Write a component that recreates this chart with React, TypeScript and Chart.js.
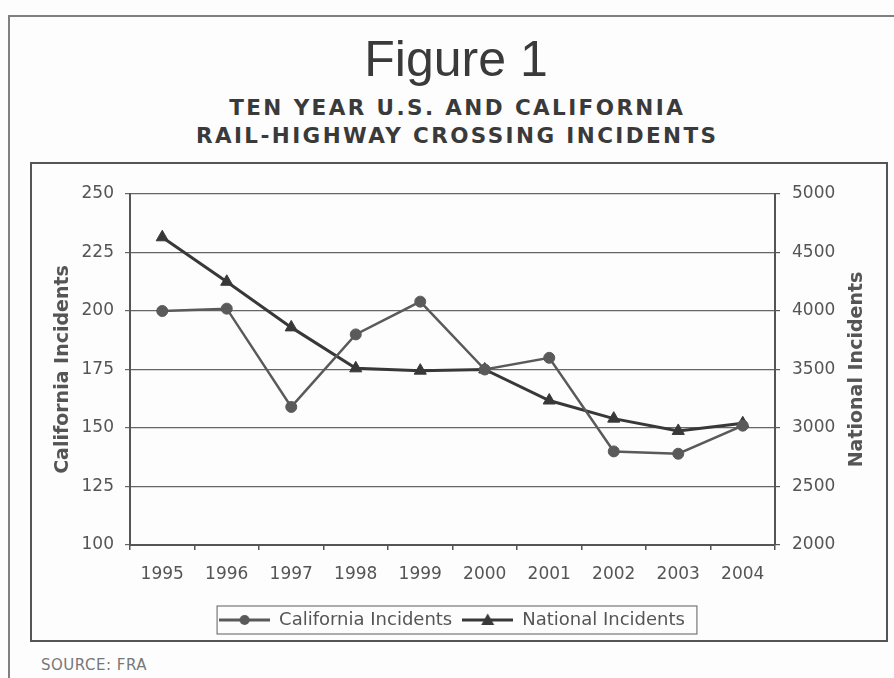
import React, { useEffect, useRef } from 'react';
import { Chart, registerables } from 'chart.js';

Chart.register(...registerables);

// ---- data ----
const years = ['1995', '1996', '1997', '1998', '1999', '2000', '2001', '2002', '2003', '2004'];
const californiaIncidents = [200, 201, 159, 190, 204, 175, 180, 140, 139, 151];
const nationalIncidents = [4630, 4250, 3860, 3510, 3490, 3500, 3235, 3080, 2975, 3040];
const californiaAxisRange = [100, 250];
const californiaAxisStep = 25;
const nationalAxisRange = [2000, 5000];
const nationalAxisStep = 500;
const seriesNames = ['California Incidents', 'National Incidents'];
const axisTitles = ['California Incidents', 'National Incidents'];

const FONT = '"DejaVu Sans", Verdana, sans-serif';
const CA_COLOR = '#5a5a5a';
const US_COLOR = '#383838';

function makeLegendSample(color: string, style: 'circle' | 'triangle'): HTMLCanvasElement {
  const c = document.createElement('canvas');
  c.width = 51;
  c.height = 18;
  const g = c.getContext('2d')!;
  g.strokeStyle = color;
  g.fillStyle = color;
  g.lineWidth = 3;
  g.beginPath();
  g.moveTo(0, 9);
  g.lineTo(51, 9);
  g.stroke();
  g.beginPath();
  if (style === 'circle') {
    g.arc(25.5, 9, 5, 0, Math.PI * 2);
  } else {
    g.moveTo(25.5, 2.5);
    g.lineTo(32, 14);
    g.lineTo(19, 14);
    g.closePath();
  }
  g.fill();
  return c;
}

const rightTitlePlugin = {
  id: 'rightTitle',
  afterDraw(chart: any) {
    const { ctx, chartArea } = chart;
    const s = chart.scales.y2;
    ctx.save();
    ctx.translate(s.right - 17, (chartArea.top + chartArea.bottom) / 2);
    ctx.rotate(-Math.PI / 2);
    ctx.font = 'bold 19px ' + FONT;
    ctx.fillStyle = '#555';
    ctx.textAlign = 'center';
    ctx.textBaseline = 'middle';
    ctx.fillText(axisTitles[1], 0, 0);
    ctx.restore();
  },
};

const legendBorderPlugin = {
  id: 'legendBorder',
  afterDraw(chart: any) {
    const hb = chart.legend?.legendHitBoxes;
    if (!hb || !hb.length) return;
    const ctx = chart.ctx;
    const left = Math.min(...hb.map((h: any) => h.left)) - 2;
    const right = Math.max(...hb.map((h: any) => h.left + h.width)) + 12;
    const top = hb[0].top - 5;
    const bottom = hb[0].top + hb[0].height + 5;
    ctx.save();
    ctx.strokeStyle = '#777';
    ctx.lineWidth = 1.2;
    ctx.strokeRect(left, top, right - left, bottom - top);
    ctx.restore();
  },
};

export default function App() {
  const ref = useRef<HTMLCanvasElement>(null);

  useEffect(() => {
    if (!ref.current) return;
    const samples = [makeLegendSample(CA_COLOR, 'circle'), makeLegendSample(US_COLOR, 'triangle')];
    const chart = new Chart(ref.current, {
      type: 'line',
      data: {
        labels: years,
        datasets: [
          {
            label: seriesNames[0],
            data: californiaIncidents,
            yAxisID: 'y',
            borderColor: CA_COLOR,
            backgroundColor: CA_COLOR,
            borderWidth: 2.5,
            pointStyle: 'circle',
            pointRadius: 5.5,
            pointBackgroundColor: CA_COLOR,
            pointBorderColor: CA_COLOR,
            pointBorderWidth: 1,
            tension: 0,
          },
          {
            label: seriesNames[1],
            data: nationalIncidents,
            yAxisID: 'y2',
            borderColor: US_COLOR,
            backgroundColor: US_COLOR,
            borderWidth: 3,
            pointStyle: 'triangle',
            pointRadius: 7,
            pointBackgroundColor: US_COLOR,
            pointBorderColor: US_COLOR,
            pointBorderWidth: 1,
            tension: 0,
          },
        ],
      },
      options: {
        responsive: false,
        animation: false,
        devicePixelRatio: 1,
        layout: { padding: { left: 0, right: 14, top: 32, bottom: 3 } },
        font: { family: FONT },
        plugins: {
          title: { display: false },
          tooltip: { enabled: false },
          legend: {
            display: true,
            position: 'bottom',
            labels: {
              usePointStyle: true,
              pointStyleWidth: 51,
              padding: 10,
              color: '#555',
              font: { family: FONT, size: 18 },
              generateLabels: (ch: any) => {
                const items = Chart.defaults.plugins.legend.labels.generateLabels(ch);
                return items.map((it: any, i: number) => ({ ...it, pointStyle: samples[i] }));
              },
            },
          },
        },
        scales: {
          x: {
            type: 'category',
            offset: true,
            grid: {
              display: true,
              offset: true,
              drawOnChartArea: false,
              drawTicks: true,
              tickLength: 5,
              color: '#555',
              lineWidth: 1.5,
            },
            border: { display: true, color: '#555', width: 2 },
            ticks: { color: '#555', font: { family: FONT, size: 17 }, padding: 14, maxRotation: 0 },
            afterFit: (s: any) => { s.height = 56; },
          },
          y: {
            type: 'linear',
            position: 'left',
            min: californiaAxisRange[0],
            max: californiaAxisRange[1],
            grid: {
              display: true,
              color: '#666',
              lineWidth: 1.2,
              drawTicks: true,
              tickLength: 5,
            },
            border: { display: true, color: '#555', width: 2 },
            ticks: { stepSize: californiaAxisStep, color: '#555', font: { family: FONT, size: 17 }, padding: 11 },
            title: {
              display: true,
              text: axisTitles[0],
              color: '#555',
              font: { family: FONT, size: 19, weight: 'bold' },
              padding: { top: 22, bottom: 0 },
            },
            afterFit: (s: any) => { s.width = 100; },
          },
          y2: {
            type: 'linear',
            position: 'right',
            min: nationalAxisRange[0],
            max: nationalAxisRange[1],
            grid: {
              display: true,
              drawOnChartArea: false,
              drawTicks: true,
              tickLength: 5,
              color: '#555',
              lineWidth: 1.2,
            },
            border: { display: true, color: '#555', width: 2 },
            ticks: {
              stepSize: nationalAxisStep,
              color: '#555',
              font: { family: FONT, size: 17 },
              padding: 12,
              callback: (v: any) => String(v),
            },
            afterFit: (s: any) => { s.width = 99; },
          },
        },
      },
      plugins: [rightTitlePlugin, legendBorderPlugin],
    } as any);
    return () => chart.destroy();
  }, []);

  return (
    <div style={{ position: 'absolute', left: 0, top: 0, width: 894, height: 678, overflow: 'hidden', background: '#fdfdfd' }}>
      <div style={{ position: 'absolute', left: 8, top: 15, width: 920, height: 720, border: '2px solid #808080' }} />
      <div
        style={{
          position: 'absolute', left: 0, top: 33.7, width: 912, textAlign: 'center',
          fontFamily: '"Liberation Sans", Arial, sans-serif', fontSize: 50, lineHeight: '50px', color: '#3a3a3a',
        }}
      >
        Figure 1
      </div>
      <div
        style={{
          position: 'absolute', left: 0, top: 93.7, width: 912, textAlign: 'center',
          fontFamily: FONT, fontWeight: 'bold', fontSize: 21.5, lineHeight: '28px', letterSpacing: 2.4,
          color: '#3a3a3a', paddingLeft: 2.4, boxSizing: 'border-box',
        }}
      >
        <div>TEN YEAR U.S. AND CALIFORNIA</div>
        <div>RAIL-HIGHWAY CROSSING INCIDENTS</div>
      </div>
      <canvas ref={ref} width={858} height={480} style={{ position: 'absolute', left: 30, top: 162, width: 858, height: 480 }} />
      <div
        style={{
          position: 'absolute', left: 30, top: 162, width: 858, height: 480, boxSizing: 'border-box',
          border: '2px solid #555', pointerEvents: 'none',
        }}
      />
      <div
        style={{
          position: 'absolute', left: 41, top: 655.8, fontFamily: FONT, fontSize: 15, lineHeight: '18px',
          letterSpacing: 0.5, color: '#777',
        }}
      >
        SOURCE: FRA
      </div>
    </div>
  );
}
